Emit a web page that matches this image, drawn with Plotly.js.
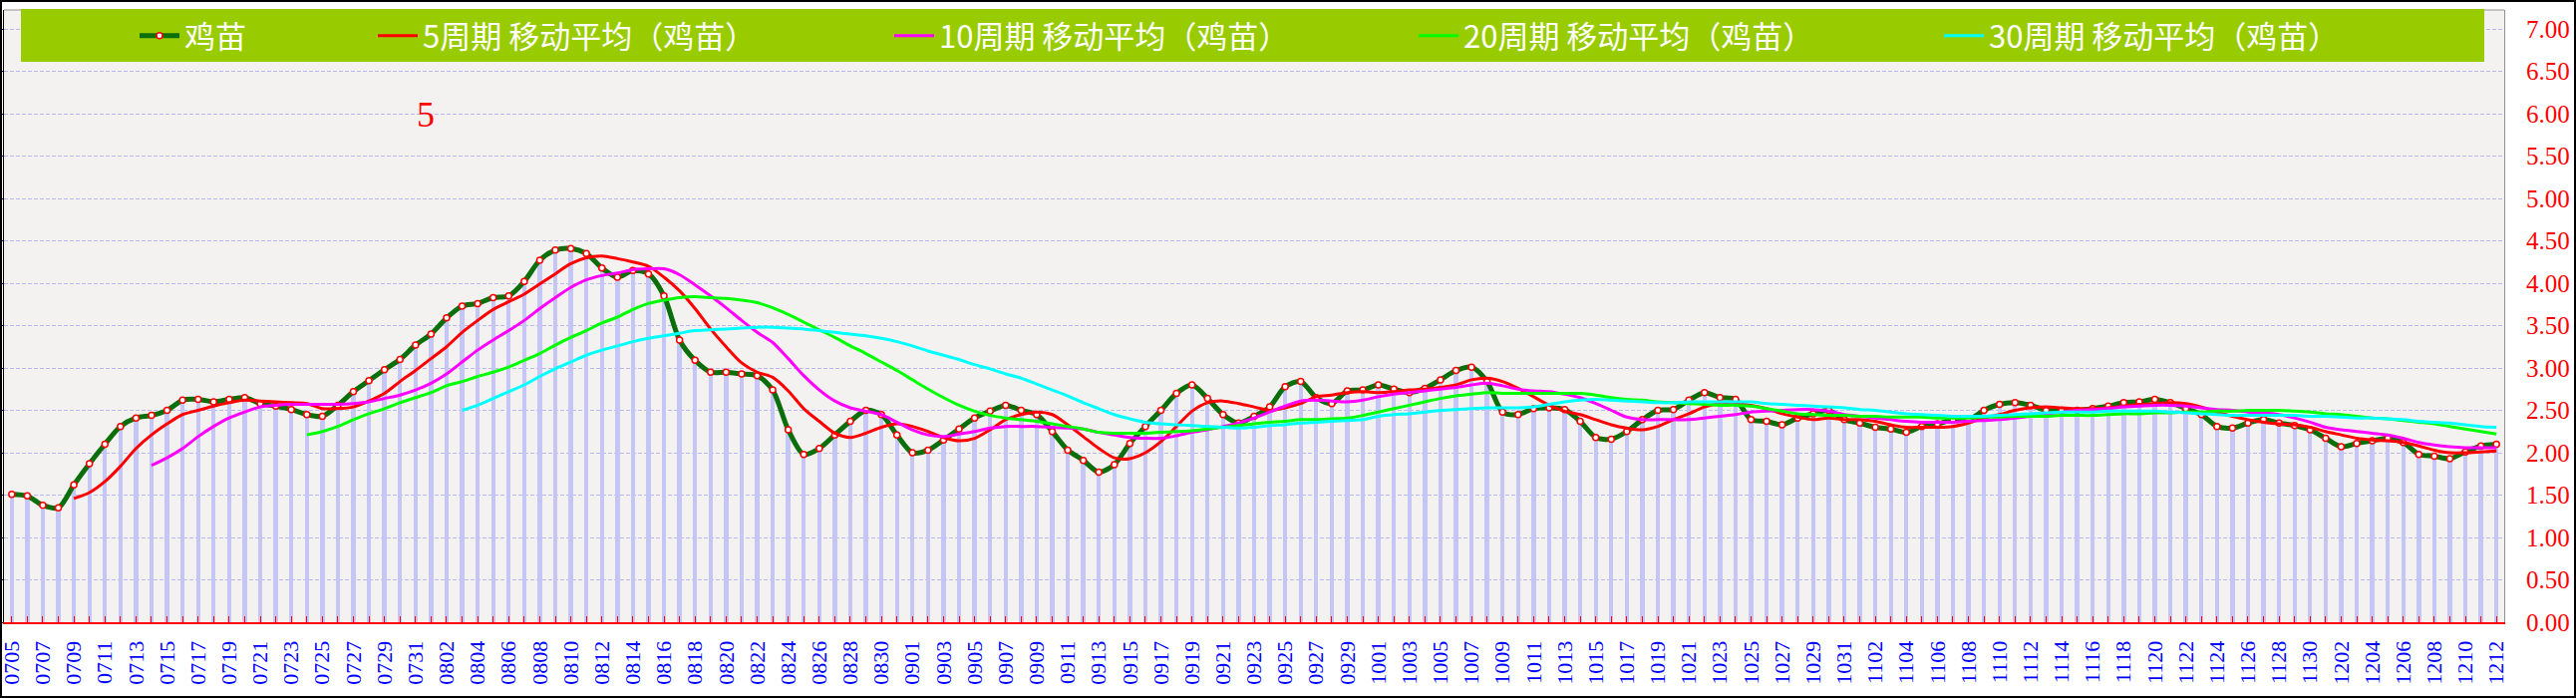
<!DOCTYPE html>
<html>
<head>
<meta charset="utf-8">
<script src="https://cdn.plot.ly/plotly-3.0.1.min.js"></script>
<style>
html,body{margin:0;padding:0;background:#fff;}
#chart{width:2584px;height:700px;}
</style>
</head>
<body>
<div id="chart"></div>
<script>
// ---------------- data ----------------
const categories = [
"0705","0706","0707","0708","0709","0710","0711","0712","0713","0714","0715","0716","0717","0718","0719","0720",
"0721","0722","0723","0724","0725","0726","0727","0728","0729","0730","0731",
"0801","0802","0803","0804","0805","0806","0807","0808","0809","0810","0811","0812","0813","0814","0815","0816",
"0817","0818","0819","0820","0821","0822","0823","0824","0825","0826","0827","0828","0829","0830","0831",
"0901","0902","0903","0904","0905","0906","0907","0908","0909","0910","0911","0912","0913","0914","0915","0916",
"0917","0918","0919","0920","0921","0922","0923","0924","0925","0926","0927","0928","0929","0930",
"1001","1002","1003","1004","1005","1006","1007","1008","1009","1010","1011","1012","1013","1014","1015","1016",
"1017","1018","1019","1020","1021","1022","1023","1024","1025","1026","1027","1028","1029","1030","1031",
"1101","1102","1103","1104","1105","1106","1107","1108","1109","1110","1111","1112","1113","1114","1115","1116",
"1117","1118","1119","1120","1121","1122","1123","1124","1125","1126","1127","1128","1129","1130",
"1201","1202","1203","1204","1205","1206","1207","1208","1209","1210","1211","1212"];

const tickLabels = [
"0705","0707","0709","0711","0713","0715","0717","0719","0721","0723","0725","0727","0729","0731",
"0802","0804","0806","0808","0810","0812","0814","0816","0818","0820","0822","0824","0826","0828","0830",
"0901","0903","0905","0907","0909","0911","0913","0915","0917","0919","0921","0923","0925","0927","0929",
"1001","1003","1005","1007","1009","1011","1013","1015","1017","1019","1021","1023","1025","1027","1029","1031",
"1102","1104","1106","1108","1110","1112","1114","1116","1118","1120","1122","1124","1126","1128","1130",
"1202","1204","1206","1208","1210","1212"];

const chick = [
1.51,1.49,1.38,1.35,1.62,1.87,2.10,2.31,2.41,2.44,2.50,2.62,2.63,2.60,2.63,2.65,
2.58,2.55,2.51,2.45,2.43,2.56,2.72,2.85,2.98,3.10,3.27,
3.40,3.59,3.73,3.76,3.83,3.85,4.02,4.27,4.39,4.41,4.35,4.18,4.07,4.15,4.11,3.85,
3.33,3.09,2.95,2.95,2.93,2.91,2.74,2.27,1.98,2.05,2.21,2.37,2.50,2.45,2.21,
2.00,2.03,2.15,2.28,2.41,2.49,2.56,2.50,2.45,2.25,2.03,1.91,1.77,1.86,2.11,2.31,
2.50,2.70,2.80,2.64,2.45,2.35,2.43,2.54,2.78,2.84,2.65,2.58,2.73,2.74,
2.80,2.75,2.71,2.76,2.86,2.97,3.01,2.84,2.48,2.45,2.52,2.53,2.51,2.37,2.18,2.16,
2.25,2.39,2.50,2.51,2.62,2.71,2.65,2.63,2.39,2.37,2.33,2.41,2.46,2.50,2.39,
2.35,2.30,2.28,2.24,2.31,2.34,2.39,2.39,2.50,2.57,2.59,2.56,2.50,2.50,2.50,2.52,
2.55,2.59,2.60,2.63,2.59,2.52,2.45,2.31,2.29,2.35,2.39,2.35,2.32,2.27,
2.17,2.07,2.11,2.14,2.17,2.12,1.98,1.96,1.93,2.01,2.08,2.10];

const ma5 = [null,null,null,null,
1.46,1.53,1.66,1.84,2.05,2.21,2.34,2.45,2.50,2.55,2.59,2.62,2.61,2.60,2.59,2.58,
2.52,2.52,2.54,2.61,2.70,2.84,2.97,3.11,3.25,3.42,3.56,3.69,3.78,3.87,3.99,4.11,
4.23,4.30,4.32,4.29,4.25,4.20,
4.07,3.91,3.70,3.46,3.25,3.06,2.95,2.89,2.73,2.52,2.37,2.23,2.18,2.23,2.30,2.34,
2.31,2.25,2.18,2.14,2.17,2.27,2.39,2.45,2.48,2.45,2.33,2.19,2.05,1.94,1.93,2.00,
2.13,2.31,2.49,2.59,2.61,2.58,2.54,2.50,2.53,
2.58,2.66,2.68,2.71,2.72,2.71,2.72,2.74,2.75,2.77,2.80,2.86,2.88,2.84,2.76,2.66,
2.56,2.49,2.45,2.39,2.33,2.29,2.27,2.31,2.39,2.46,2.54,2.58,2.58,2.56,2.52,2.46,
2.42,2.39,2.41,2.39,2.39,2.37,2.33,2.30,2.30,
2.30,2.31,2.35,2.41,2.45,2.50,2.53,2.54,2.53,2.52,2.52,2.53,2.55,2.57,2.58,2.59,
2.58,2.54,2.48,2.43,2.39,2.36,2.34,2.33,2.30,2.25,2.21,2.17,2.15,2.14,2.12,2.08,
2.03,2.00,2.00,2.01,2.02];

const ma10 = [null,null,null,null,null,null,null,null,null,
1.85,1.94,2.05,2.19,2.31,2.41,2.48,2.54,2.56,2.57,2.57,2.57,2.57,2.58,2.60,2.64,
2.68,2.74,2.82,2.93,3.07,3.21,3.33,3.44,3.56,3.70,3.83,3.95,4.04,4.09,4.12,4.16,4.17,
4.17,4.10,3.98,3.85,3.71,3.56,3.42,3.30,3.11,2.91,2.74,2.61,2.53,2.49,2.45,2.36,
2.27,2.21,2.19,2.22,2.25,2.29,2.31,2.31,2.31,2.30,2.29,2.28,2.24,2.21,2.18,2.17,
2.17,2.20,2.24,2.27,2.31,2.35,2.41,2.48,2.55,
2.61,2.62,2.61,2.60,2.62,2.66,2.69,2.71,2.73,2.75,2.77,2.80,2.82,2.79,2.75,2.73,
2.72,2.69,2.65,2.58,2.50,2.42,2.39,2.39,2.39,2.39,2.41,2.43,2.45,2.48,2.49,2.50,
2.51,2.51,2.49,2.45,2.43,2.41,2.39,2.37,2.36,
2.36,2.36,2.37,2.38,2.39,2.41,2.43,2.46,2.48,2.50,2.51,2.52,2.54,2.55,2.56,2.56,
2.55,2.53,2.51,2.50,2.48,2.47,2.45,2.41,2.36,2.30,2.27,2.25,2.23,2.21,2.17,2.12,
2.09,2.07,2.06,2.06,2.06];

const ma20 = [null,null,null,null,null,null,null,null,null,null,null,null,null,null,null,
null,null,null,null,
2.21,2.25,2.31,2.39,2.46,2.52,2.59,2.65,2.71,2.79,2.84,2.90,2.95,3.01,3.09,3.17,
3.27,3.36,3.44,3.53,3.60,3.69,3.76,
3.80,3.83,3.84,3.83,3.82,3.80,3.77,3.71,3.63,3.54,3.45,3.36,3.26,3.17,3.07,2.97,
2.86,2.75,2.65,2.56,2.49,2.44,2.41,2.39,2.37,2.34,2.31,2.28,2.24,2.23,2.23,2.23,
2.24,2.25,2.26,2.28,2.30,2.32,2.34,2.36,2.37,
2.39,2.39,2.40,2.41,2.44,2.48,2.52,2.56,2.60,2.64,2.67,2.69,2.71,2.70,2.70,2.70,
2.70,2.70,2.70,2.68,2.65,2.63,2.62,2.60,2.59,2.58,2.57,2.56,2.56,2.55,2.52,2.49,
2.46,2.45,2.44,2.44,2.43,2.43,2.42,2.42,2.42,
2.41,2.41,2.41,2.42,2.42,2.43,2.43,2.43,2.44,2.44,2.44,2.45,2.46,2.46,2.47,2.47,
2.48,2.48,2.49,2.49,2.50,2.50,2.50,2.49,2.48,2.46,2.45,2.43,2.41,2.40,2.38,2.36,
2.34,2.31,2.28,2.25,2.22,2.19];

const ma30 = [null,null,null,null,null,null,null,null,null,null,null,null,null,null,null,
null,null,null,null,null,null,null,null,null,null,null,null,null,null,
2.50,2.56,2.64,2.72,2.80,2.90,2.99,3.07,3.15,3.21,3.26,3.31,3.35,
3.38,3.41,3.44,3.45,3.46,3.47,3.48,3.48,3.47,3.46,3.44,3.42,3.40,3.38,3.35,3.31,
3.26,3.20,3.15,3.10,3.04,2.99,2.93,2.88,2.81,2.74,2.67,2.59,2.52,2.45,2.40,2.36,
2.34,2.33,2.32,2.31,2.30,2.29,2.30,2.32,2.33,
2.35,2.36,2.37,2.38,2.39,2.43,2.45,2.46,2.48,2.50,2.51,2.52,2.53,2.53,2.53,2.54,
2.57,2.60,2.62,2.63,2.62,2.61,2.60,2.59,2.59,2.60,2.60,2.60,2.60,2.60,2.58,2.57,
2.56,2.55,2.54,2.53,2.51,2.50,2.48,2.46,2.45,
2.44,2.43,2.43,2.43,2.44,2.45,2.46,2.47,2.48,2.48,2.48,2.49,2.49,2.49,2.49,2.48,
2.47,2.46,2.45,2.44,2.44,2.44,2.44,2.44,2.43,2.43,2.42,2.41,2.41,2.40,2.39,2.37,
2.36,2.35,2.33,2.31,2.30];

const yTickVals = [0,0.5,1,1.5,2,2.5,3,3.5,4,4.5,5,5.5,6,6.5,7];
const yTickText = ["0.00","0.50","1.00","1.50","2.00","2.50","3.00","3.50","4.00","4.50","5.00","5.50","6.00","6.50","7.00"];

const seriesNames = ["鸡苗","5周期 移动平均（鸡苗）","10周期 移动平均（鸡苗）","20周期 移动平均（鸡苗）","30周期 移动平均（鸡苗）"];
const noteText = "5";

// ---------------- geometry helpers (pixels -> paper) ----------------
const W = 2584, H = 700;
const PL = 4, PR = 2512, PT = 10, PB = 624;
const px = x => (x - PL) / (PR - PL);
const py = y => (PB - y) / (PB - PT);

const tickText = categories.map(c => tickLabels.includes(c) ? c : "");

const legendFont = {family: "Noto Sans CJK SC, sans-serif", size: 31, color: "#FFFFFF"};
function legendAt(xpx) {
  return {x: px(xpx), xanchor: "left", y: py(36), yanchor: "middle",
          bgcolor: "rgba(0,0,0,0)", borderwidth: 0, font: legendFont,
          itemwidth: 40, orientation: "v", itemclick: false, itemdoubleclick: false};
}

const traces = [
  {type: "bar", x: categories, y: chick, width: 0.28, marker: {color: "#C6C6F6"},
   showlegend: false, hoverinfo: "skip"},
  {type: "scatter", mode: "lines+markers", name: seriesNames[0], x: categories, y: chick,
   line: {color: "#0A6E0A", width: 5, shape: "spline", smoothing: 0.8},
   marker: {symbol: "circle", size: 6, color: "#FFFFFF", line: {color: "#FF0000", width: 1.5}},
   legend: "legend"},
  {type: "scatter", mode: "lines", name: seriesNames[1], x: categories, y: ma5,
   line: {color: "#FF0000", width: 3, shape: "spline", smoothing: 0.8}, legend: "legend2"},
  {type: "scatter", mode: "lines", name: seriesNames[2], x: categories, y: ma10,
   line: {color: "#FF00FF", width: 3, shape: "spline", smoothing: 0.8}, legend: "legend3"},
  {type: "scatter", mode: "lines", name: seriesNames[3], x: categories, y: ma20,
   line: {color: "#00FF00", width: 3, shape: "spline", smoothing: 0.8}, legend: "legend4"},
  {type: "scatter", mode: "lines", name: seriesNames[4], x: categories, y: ma30,
   line: {color: "#00FFFF", width: 3, shape: "spline", smoothing: 0.8}, legend: "legend5"},
  {type: "scatter", mode: "lines", x: [categories[0]], y: [null], yaxis: "y2",
   showlegend: false, hoverinfo: "skip"}
];

const layout = {
  width: W, height: H,
  margin: {l: PL, r: W - PR, t: PT, b: H - PB, pad: 0},
  paper_bgcolor: "#FFFFFF",
  plot_bgcolor: "#F4F2F1",
  showlegend: true,
  hovermode: false,
  bargap: 0,
  xaxis: {
    type: "category", range: [-0.5, categories.length - 0.5],
    tickmode: "array", tickvals: categories, ticktext: tickText,
    tickangle: -90, tickfont: {family: "Liberation Serif, serif", size: 22, color: "#0000FF"},
    ticks: "inside", ticklen: 6, tickcolor: "#FF0000", tickwidth: 1,
    ticklabelstandoff: 8,
    showline: true, linecolor: "#FF0000", linewidth: 2,
    showgrid: false, zeroline: false, fixedrange: true
  },
  yaxis: {
    range: [0, (PB - PT) / 85], tickmode: "array", tickvals: yTickVals,
    showticklabels: false, ticks: "outside", ticklen: 4, tickcolor: "#000000",
    showline: true, linecolor: "#000000", linewidth: 1,
    showgrid: true, gridcolor: "#B8B8F0", gridwidth: 1, griddash: "4px,2px",
    zeroline: false, fixedrange: true
  },
  yaxis2: {
    overlaying: "y", side: "right", matches: "y", range: [0, (PB - PT) / 85],
    tickmode: "array", tickvals: yTickVals, ticktext: yTickText,
    tickfont: {family: "Liberation Serif, serif", size: 25, color: "#FF0000"},
    ticks: "", ticklabelstandoff: 16, showgrid: false, zeroline: false,
    showline: true, linecolor: "#909090", linewidth: 1, fixedrange: true
  },
  legend: legendAt(135),
  legend2: legendAt(374),
  legend3: legendAt(892),
  legend4: legendAt(1418),
  legend5: legendAt(1945),
  shapes: [
    {type: "line", xref: "paper", yref: "paper", x0: 0, x1: 1, y0: 1, y1: 1,
     line: {color: "#909090", width: 1}, layer: "above"},
    {type: "rect", xref: "paper", yref: "paper", x0: px(21), x1: px(2492), y0: py(62), y1: py(9),
     fillcolor: "#99CC00", line: {width: 0}, layer: "above"},
    {type: "rect", xref: "paper", yref: "paper", x0: px(1), x1: px(2583), y0: py(699), y1: py(1),
     fillcolor: "rgba(0,0,0,0)", line: {color: "#000000", width: 2}, layer: "above"}
  ],
  annotations: [
    {text: noteText, xref: "paper", yref: "paper", x: px(427), y: py(115),
     xanchor: "center", yanchor: "middle", showarrow: false,
     font: {family: "Liberation Serif, serif", size: 36, color: "#FF0000"}}
  ]
};

Plotly.newPlot("chart", traces, layout, {displayModeBar: false, staticPlot: true});
</script>
</body>
</html>
